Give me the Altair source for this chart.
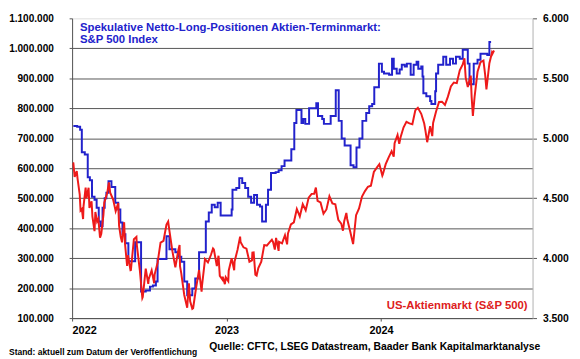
import altair as alt
import pandas as pd

# --- Speculative net long positions (CFTC, S&P 500 futures), in thousands of contracts
pos_dates = [
    "2022-01-04", "2022-01-13", "2022-01-20", "2022-01-24", "2022-01-31", "2022-02-07", "2022-02-12",
    "2022-02-17", "2022-02-23", "2022-02-28", "2022-03-05", "2022-03-09", "2022-03-14", "2022-03-19",
    "2022-03-23", "2022-03-28", "2022-04-04", "2022-04-13", "2022-04-20", "2022-04-25", "2022-04-30",
    "2022-05-07", "2022-05-14", "2022-05-30", "2022-06-13", "2022-06-24", "2022-07-04", "2022-07-11",
    "2022-07-18", "2022-07-22", "2022-08-12", "2022-08-19", "2022-09-02", "2022-09-09", "2022-09-16",
    "2022-09-23", "2022-09-30", "2022-10-12", "2022-10-19", "2022-10-28", "2022-11-13", "2022-11-20",
    "2022-11-27", "2022-12-04", "2022-12-11", "2022-12-18", "2023-01-13", "2023-01-15", "2023-01-24",
    "2023-01-31", "2023-02-07", "2023-02-14", "2023-02-21", "2023-02-28", "2023-03-07", "2023-03-14",
    "2023-03-21", "2023-03-26", "2023-04-04", "2023-04-09", "2023-04-16", "2023-04-27", "2023-05-04",
    "2023-05-11", "2023-05-18", "2023-06-03", "2023-06-10", "2023-06-15", "2023-06-27", "2023-07-01",
    "2023-07-06", "2023-07-15", "2023-08-01", "2023-08-05", "2023-08-15", "2023-08-19", "2023-09-04",
    "2023-09-16", "2023-09-23", "2023-09-30", "2023-10-07", "2023-10-21", "2023-10-28", "2023-11-04",
    "2023-11-11", "2023-11-18", "2023-11-27", "2023-12-04", "2023-12-11", "2023-12-16", "2023-12-27",
    "2024-01-03", "2024-01-08", "2024-01-20", "2024-01-27", "2024-01-31", "2024-02-07", "2024-02-14",
    "2024-02-19", "2024-02-26", "2024-03-02", "2024-03-11", "2024-03-18", "2024-03-25", "2024-03-29",
    "2024-04-05", "2024-04-08", "2024-04-10", "2024-04-17", "2024-04-26", "2024-04-29", "2024-05-08",
    "2024-05-10", "2024-05-15", "2024-05-27", "2024-06-03", "2024-06-12", "2024-06-19", "2024-06-26",
    "2024-07-05", "2024-07-12", "2024-07-24", "2024-07-28", "2024-08-07", "2024-08-16", "2024-08-23",
    "2024-09-08", "2024-09-13", "2024-09-17",
]
pos_values_k = [
    741, 738, 728, 653, 646, 570, 560,
    505, 495, 468, 422, 406, 468, 500,
    518, 557, 537, 485, 462, 419, 380,
    350, 290, 353, 189, 192, 205, 209,
    222, 297, 373, 330, 320, 305, 288,
    222, 176, 199, 232, 320, 422, 452,
    478, 470, 485, 442, 462, 528, 534,
    567, 551, 534, 505, 485, 511, 478,
    472, 422, 478, 528, 584, 587, 593,
    607, 626, 663, 751, 794, 751, 764,
    748, 800, 817, 774, 764, 748, 774,
    860, 758, 699, 676, 610, 603, 669,
    699, 758, 784, 807, 814, 870, 949,
    922, 916, 912, 965, 932, 916, 929,
    945, 939, 949, 912, 945, 955, 932,
    939, 906, 850, 840, 824, 814, 857,
    916, 945, 972, 945, 965, 949, 972,
    965, 995, 949, 880, 949, 962, 982,
    978, 1021, 1021,
]

# --- S&P 500 index level
spx_dates = [
    "2022-01-03", "2022-01-04", "2022-01-07", "2022-01-12", "2022-01-14", "2022-01-19", "2022-01-21",
    "2022-01-24", "2022-01-27", "2022-01-28", "2022-02-02", "2022-02-04", "2022-02-09", "2022-02-11",
    "2022-02-16", "2022-02-18", "2022-02-23", "2022-02-25", "2022-03-01", "2022-03-04", "2022-03-08",
    "2022-03-11", "2022-03-16", "2022-03-18", "2022-03-25", "2022-03-29", "2022-04-01", "2022-04-08",
    "2022-04-14", "2022-04-20", "2022-04-22", "2022-04-26", "2022-04-29", "2022-05-04", "2022-05-06",
    "2022-05-11", "2022-05-13", "2022-05-19", "2022-05-20", "2022-05-27", "2022-06-02", "2022-06-03",
    "2022-06-10", "2022-06-16", "2022-06-17", "2022-06-24", "2022-06-30", "2022-07-01", "2022-07-08",
    "2022-07-14", "2022-07-15", "2022-07-22", "2022-07-29", "2022-08-05", "2022-08-12", "2022-08-16",
    "2022-08-19", "2022-08-26", "2022-09-02", "2022-09-09", "2022-09-12", "2022-09-13", "2022-09-16",
    "2022-09-23", "2022-09-30", "2022-10-04", "2022-10-07", "2022-10-12", "2022-10-14", "2022-10-21",
    "2022-10-28", "2022-11-03", "2022-11-04", "2022-11-10", "2022-11-11", "2022-11-18", "2022-11-25",
    "2022-11-30", "2022-12-02", "2022-12-09", "2022-12-13", "2022-12-16", "2022-12-22", "2022-12-23",
    "2022-12-28", "2022-12-30",
    "2023-01-05", "2023-01-06", "2023-01-13", "2023-01-19", "2023-01-20", "2023-01-27", "2023-02-02",
    "2023-02-03", "2023-02-10", "2023-02-17", "2023-02-24", "2023-03-02", "2023-03-03", "2023-03-06",
    "2023-03-10", "2023-03-13", "2023-03-17", "2023-03-24", "2023-03-31", "2023-04-06", "2023-04-14",
    "2023-04-18", "2023-04-21", "2023-04-25", "2023-04-28", "2023-05-04", "2023-05-05", "2023-05-12",
    "2023-05-19", "2023-05-24", "2023-05-26", "2023-06-02", "2023-06-09", "2023-06-16", "2023-06-23",
    "2023-06-30", "2023-07-07", "2023-07-14", "2023-07-21", "2023-07-27", "2023-07-31", "2023-08-04",
    "2023-08-11", "2023-08-18", "2023-08-25", "2023-09-01", "2023-09-08", "2023-09-15", "2023-09-22",
    "2023-09-29", "2023-10-03", "2023-10-06", "2023-10-11", "2023-10-13", "2023-10-20", "2023-10-27",
    "2023-11-03", "2023-11-10", "2023-11-17", "2023-11-24", "2023-12-01", "2023-12-08", "2023-12-15",
    "2023-12-22", "2023-12-28", "2023-12-29",
    "2024-01-04", "2024-01-05", "2024-01-12", "2024-01-19", "2024-01-26", "2024-01-31", "2024-02-02",
    "2024-02-09", "2024-02-13", "2024-02-16", "2024-02-23", "2024-03-01", "2024-03-08", "2024-03-15",
    "2024-03-22", "2024-03-28", "2024-04-05", "2024-04-12", "2024-04-15", "2024-04-19", "2024-04-26",
    "2024-05-01", "2024-05-03", "2024-05-10", "2024-05-17", "2024-05-24", "2024-05-31", "2024-06-07",
    "2024-06-14", "2024-06-21", "2024-06-28", "2024-07-05", "2024-07-12", "2024-07-16", "2024-07-19",
    "2024-07-24", "2024-07-26", "2024-07-31", "2024-08-02", "2024-08-05", "2024-08-09", "2024-08-16",
    "2024-08-23", "2024-08-30", "2024-09-03", "2024-09-06", "2024-09-13", "2024-09-19", "2024-09-20",
    "2024-09-24",
]
spx_values = [
    4796, 4793, 4677, 4726, 4662, 4533, 4398,
    4410, 4326, 4432, 4589, 4500, 4587, 4418,
    4475, 4349, 4225, 4385, 4306, 4329, 4170,
    4204, 4358, 4463, 4543, 4632, 4546, 4488,
    4392, 4459, 4272, 4175, 4132, 4300, 4123,
    3935, 4024, 3900, 3901, 4158, 4177, 4109,
    3901, 3667, 3675, 3912, 3785, 3825, 3899,
    3790, 3863, 3962, 4130, 4145, 4280, 4305,
    4228, 4058, 3924, 4067, 4110, 3933, 3873,
    3693, 3586, 3791, 3640, 3577, 3583, 3753,
    3901, 3720, 3771, 3956, 3993, 3965, 4026,
    4080, 4072, 3934, 4020, 3852, 3822, 3845,
    3783, 3840,
    3808, 3895, 3999, 3899, 3973, 4071, 4180,
    4136, 4090, 4079, 3970, 3981, 4046, 4048,
    3862, 3855, 3917, 3971, 4109, 4105, 4138,
    4154, 4133, 4071, 4169, 4061, 4136, 4124,
    4192, 4115, 4205, 4282, 4299, 4410, 4348,
    4450, 4399, 4505, 4536, 4537, 4589, 4478,
    4464, 4370, 4406, 4516, 4457, 4450, 4320,
    4288, 4229, 4308, 4377, 4327, 4224, 4117,
    4358, 4415, 4514, 4559, 4595, 4604, 4719,
    4755, 4783, 4770,
    4688, 4697, 4784, 4840, 4891, 4846, 4959,
    5027, 4953, 5006, 5089, 5137, 5124, 5117,
    5234, 5254, 5204, 5123, 5062, 4967, 5100,
    5018, 5128, 5223, 5303, 5305, 5278, 5347,
    5432, 5465, 5460, 5567, 5615, 5667, 5505,
    5427, 5459, 5522, 5347, 5186, 5344, 5554,
    5634, 5648, 5529, 5408, 5626, 5713, 5703,
    5732,
]

left_ticks = [100000, 200000, 300000, 400000, 500000, 600000, 700000, 800000, 900000, 1000000, 1100000]
right_ticks = [3500, 4000, 4500, 5000, 5500, 6000]
years = [2022, 2023, 2024]

title_lines = ["Spekulative Netto-Long-Positionen Aktien-Terminmarkt:", "S&P 500 Index"]
red_label = "US-Aktienmarkt (S&P 500)"
footer_left = "Stand: aktuell zum Datum der Veröffentlichung"
footer_right = "Quelle: CFTC, LSEG Datastream, Baader Bank Kapitalmarktanalyse"

BLUE = "#2222CC"
RED = "#EE1A1A"
GRID = "#555555"
FONT = "Liberation Sans"

pos_df = pd.DataFrame({"date": pos_dates, "pos": [v * 1000 for v in pos_values_k]})
spx_df = pd.DataFrame({"date": spx_dates, "spx": spx_values})

label_de = "replace(replace(format(datum.value, ','), ',', '.'), ',', '.')"

x_scale = alt.Scale(
    type="utc",
    domain=[alt.DateTime(year=2022, month=1, date=1, utc=True),
            alt.DateTime(year=2024, month=12, date=24, utc=True)],
    nice=False,
)
x_axis = alt.Axis(
    values=[alt.DateTime(year=y, month=1, date=1, utc=True) for y in years],
    format="%Y", title=None, grid=False,
    labelFont=FONT, labelFontSize=11, labelFontWeight="bold", labelColor="black",
    tickSize=3, tickColor=GRID, domainColor=GRID, labelPadding=4,
)

blue_line = alt.Chart(pos_df).mark_line(
    color=BLUE, strokeWidth=2, interpolate="step-after"
).encode(
    x=alt.X("date:T", scale=x_scale, axis=x_axis),
    y=alt.Y(
        "pos:Q",
        scale=alt.Scale(domain=[100000, 1100000], nice=False, zero=False),
        axis=alt.Axis(
            orient="left", values=left_ticks, labelExpr=label_de, title=None,
            grid=True,
            gridColor={"condition": {"test": "datum.value >= 1100000", "value": "transparent"}, "value": GRID},
            gridWidth=1,
            labelFont=FONT, labelFontSize=10.2, labelFontWeight="bold", labelColor="black",
            tickSize=3, tickColor=GRID, domainColor=GRID, labelPadding=16,
        ),
    ),
)

red_line = alt.Chart(spx_df).mark_line(color=RED, strokeWidth=2).encode(
    x=alt.X("date:T", scale=x_scale, axis=x_axis),
    y=alt.Y(
        "spx:Q",
        scale=alt.Scale(domain=[3500, 6000], nice=False, zero=False),
        axis=alt.Axis(
            orient="right", values=right_ticks, labelExpr=label_de, title=None, grid=False,
            labelFont=FONT, labelFontSize=10.5, labelFontWeight="bold", labelColor="black",
            tickSize=4, tickColor=GRID, domainColor="#C0C0C0", labelPadding=6,
        ),
    ),
)

one = pd.DataFrame({"k": [0]})


def txt(text, x, y, size, color, align="left"):
    return alt.Chart(one).mark_text(
        text=text, align=align, baseline="alphabetic", font=FONT, fontWeight="bold",
        fontSize=size, color=color,
    ).encode(x=alt.value(x), y=alt.value(y))


layers = [
    blue_line,
    red_line,
    txt(title_lines[0], 8, 13, 11.5, BLUE),
    txt(title_lines[1], 8, 25, 11.5, BLUE),
    txt(red_label, 462, 295, 11.5, "#DD2020", align="right"),
    txt(footer_left, -64, 341, 8.6, "black"),
    txt(footer_right, 139, 336, 10.5, "black"),
]

chart = alt.layer(*layers).resolve_scale(y="independent").properties(
    width=467, height=304,
    autosize=alt.AutoSizeParams(type="none"),
    padding={"left": 65, "top": 8, "right": 40, "bottom": 40},
).configure_view(stroke=None).configure(background="white")

chart.save("out.html", embed_options={"renderer": "svg", "actions": False})
